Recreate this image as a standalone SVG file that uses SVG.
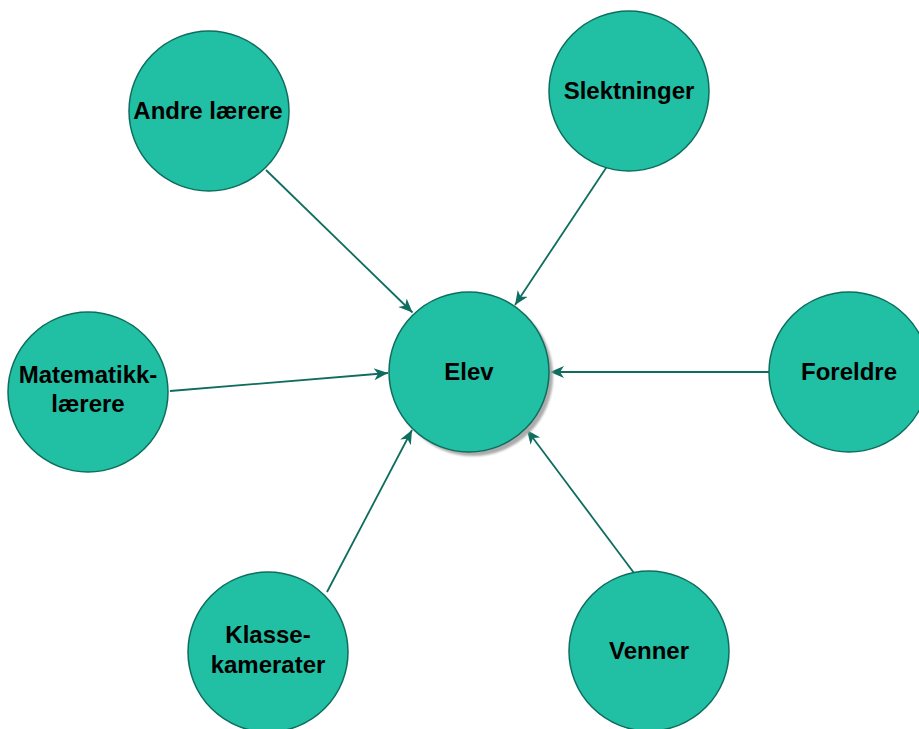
<svg xmlns="http://www.w3.org/2000/svg" width="919" height="729" viewBox="0 0 919 729">
<defs>
<style>
.node circle{fill:#21BFA3;stroke:#0E6D5E;stroke-width:1.5}
.node text{font-family:"Liberation Sans",Arial,sans-serif;font-weight:bold;font-size:24px;fill:#000;text-anchor:middle}
.edge{stroke:#0E6D5E;stroke-width:1.8;fill:none;marker-end:url(#arr)}
</style>
<marker id="arr" markerUnits="userSpaceOnUse" markerWidth="16" markerHeight="14" refX="14" refY="7" orient="auto">
<path d="M0,1 L14,7 L0,13 L4,7 Z" fill="#0E6D5E"/>
</marker>
<filter id="sh" x="-20%" y="-20%" width="140%" height="140%">
<feGaussianBlur stdDeviation="1.2"/>
</filter>
</defs>
<rect width="919" height="729" fill="#fff"/>
<g id="connectors">
<line class="edge" x1="266" y1="170" x2="412.5" y2="312.5"/>
<line class="edge" x1="608" y1="165" x2="515" y2="305"/>
<line class="edge" x1="170" y1="391" x2="388" y2="373"/>
<line class="edge" x1="769" y1="372" x2="550" y2="372"/>
<line class="edge" x1="327" y1="592" x2="412" y2="430"/>
<line class="edge" x1="634" y1="573" x2="527" y2="430"/>
</g>
<g id="elev" class="node">
<circle cx="473" cy="376" r="80" style="fill:#ABABAB;stroke:none" filter="url(#sh)"/>
<circle cx="469" cy="372" r="80"/>
<text x="469" y="380">Elev</text>
</g>
<g id="andre" class="node">
<circle cx="209" cy="111" r="80"/>
<text x="208" y="119">Andre lærere</text>
</g>
<g id="slektninger" class="node">
<circle cx="629" cy="91" r="80"/>
<text x="629" y="99">Slektninger</text>
</g>
<g id="matematikk" class="node">
<circle cx="88" cy="392" r="80"/>
<text x="88" y="383">Matematikk-</text>
<text x="88" y="412">lærere</text>
</g>
<g id="foreldre" class="node">
<circle cx="849" cy="372" r="80"/>
<text x="849" y="380">Foreldre</text>
</g>
<g id="klasse" class="node">
<circle cx="268" cy="652" r="80"/>
<text x="268" y="643">Klasse-</text>
<text x="268" y="673">kamerater</text>
</g>
<g id="venner" class="node">
<circle cx="649" cy="651" r="80"/>
<text x="649" y="659">Venner</text>
</g>
</svg>
